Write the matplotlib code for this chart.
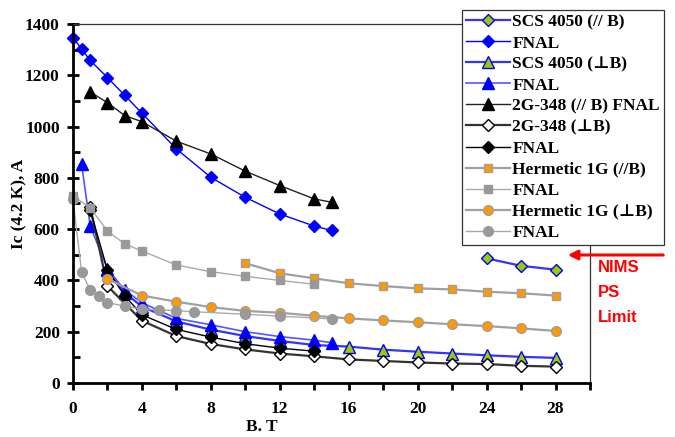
import matplotlib
matplotlib.use("Agg")
import matplotlib.pyplot as plt
from matplotlib.ticker import MultipleLocator

# ---------------- data ----------------
scs_par_x = [24, 26, 28]
scs_par_y = [486, 457, 442]

fnal_scs_par_x = [0, 0.5, 1, 2, 3, 4, 6, 8, 10, 12, 14, 15]
fnal_scs_par_y = [1347, 1302, 1258, 1191, 1122, 1052, 913, 802, 724, 659, 612, 595]

scs_perp_x = [2, 3, 4, 6, 8, 10, 12, 14, 16, 18, 20, 22, 24, 26, 28]
scs_perp_y = [440, 352, 298, 240, 208, 183, 164, 148, 142, 130, 122, 115, 108, 102, 98]

fnal_scs_perp_x = [0.5, 1, 2, 3, 4, 6, 8, 10, 12, 14, 15]
fnal_scs_perp_y = [853, 612, 445, 363, 313, 252, 227, 200, 181, 167, 157]

g2_par_fnal_x = [1, 2, 3, 4, 6, 8, 10, 12, 14, 15]
g2_par_fnal_y = [1135, 1093, 1043, 1019, 943, 893, 826, 770, 718, 705]

g2_perp_x = [1, 2, 4, 6, 8, 10, 12, 14, 16, 18, 20, 22, 24, 26, 28]
g2_perp_y = [685, 378, 243, 183, 152, 131, 115, 104, 92, 86, 80, 76, 74, 67, 64]

fnal_g2_perp_x = [1, 2, 3, 4, 6, 8, 10, 12, 14]
fnal_g2_perp_y = [675, 440, 340, 266, 209, 179, 153, 136, 124]

herm_par_x = [10, 12, 14, 16, 18, 20, 22, 24, 26, 28]
herm_par_y = [467, 428, 408, 389, 378, 369, 365, 356, 350, 341]

fnal_herm_par_x = [0, 1, 2, 3, 4, 6, 8, 10, 12, 14]
fnal_herm_par_y = [730, 683, 593, 542, 515, 460, 434, 416, 400, 385]

herm_perp_x = [2, 4, 6, 8, 10, 12, 14, 16, 18, 20, 22, 24, 26, 28]
herm_perp_y = [406, 341, 317, 296, 281, 274, 262, 252, 244, 237, 229, 222, 213, 203]

fnal_herm_perp_x = [0, 0.5, 1, 1.5, 2, 3, 4, 5, 6, 7, 10, 12, 15]
fnal_herm_perp_y = [716, 432, 363, 339, 313, 300, 288, 285, 282, 278, 268, 261, 250]

labels = ["SCS 4050 (// B)", "FNAL", "SCS 4050 (\u22a5B)", "FNAL",
          "2G-348 (// B) FNAL", "2G-348 (\u22a5B)", "FNAL",
          "Hermetic 1G (//B)", "FNAL", "Hermetic 1G (\u22a5B)", "FNAL"]

# ---------------- style ----------------
BLUE = "#0000ff"
GREEN = "#99cc00"
ORANGE = "#ff9900"
GRAY = "#a0a0a0"
serif = ["Liberation Serif", "DejaVu Serif"]
plt.rcParams["font.family"] = serif
plt.rcParams["font.weight"] = "bold"

fig = plt.figure(figsize=(6.75, 4.37), dpi=100)
ax = fig.add_axes([73 / 675, 1 - 383 / 437, (590 - 73) / 675, (383 - 24) / 437])

series = [
    (scs_par_x, scs_par_y, dict(color="#3333ff", lw=1.6, marker="D", ms=6, mfc=GREEN, mec=BLUE, mew=1.0)),
    (fnal_scs_par_x, fnal_scs_par_y, dict(color=BLUE, lw=1.0, marker="D", ms=6, mfc=BLUE, mec=BLUE)),
    (scs_perp_x, scs_perp_y, dict(color="#3333ff", lw=1.6, marker="^", ms=8, mfc=GREEN, mec=BLUE, mew=1.0)),
    (fnal_scs_perp_x, fnal_scs_perp_y, dict(color="#5555ff", lw=1.2, marker="^", ms=8, mfc=BLUE, mec=BLUE)),
    (g2_par_fnal_x, g2_par_fnal_y, dict(color="#222222", lw=1.0, marker="^", ms=8, mfc="black", mec="black")),
    (g2_perp_x, g2_perp_y, dict(color="#333333", lw=1.6, marker="D", ms=6, mfc="white", mec="black", mew=1.0)),
    (fnal_g2_perp_x, fnal_g2_perp_y, dict(color="black", lw=1.0, marker="D", ms=6, mfc="black", mec="black")),
    (herm_par_x, herm_par_y, dict(color=GRAY, lw=1.6, marker="s", ms=5.5, mfc=ORANGE, mec=GRAY, mew=1.0)),
    (fnal_herm_par_x, fnal_herm_par_y, dict(color="#aaaaaa", lw=1.0, marker="s", ms=5.5, mfc="#999999", mec="#999999")),
    (herm_perp_x, herm_perp_y, dict(color=GRAY, lw=1.6, marker="o", ms=7, mfc=ORANGE, mec=GRAY, mew=1.0)),
    (fnal_herm_perp_x, fnal_herm_perp_y, dict(color="#aaaaaa", lw=1.0, marker="o", ms=7, mfc="#999999", mec="#999999")),
]

handles = []
for (x, y, kw), lab in zip(series, labels):
    h, = ax.plot(x, y, label=lab, clip_on=False, **kw)
    handles.append(h)

ax.set_xlim(0, 30)
ax.set_ylim(0, 1400)
ax.xaxis.set_major_locator(MultipleLocator(4))
ax.xaxis.set_minor_locator(MultipleLocator(2))
ax.yaxis.set_major_locator(MultipleLocator(200))
ax.yaxis.set_minor_locator(MultipleLocator(100))
ax.set_xticks([0, 4, 8, 12, 16, 20, 24, 28])

for s in ["left", "bottom"]:
    ax.spines[s].set_linewidth(2)
    ax.spines[s].set_color("black")
for s in ["top", "right"]:
    ax.spines[s].set_linewidth(0.9)
    ax.spines[s].set_color("#333333")

ax.tick_params(axis="y", which="major", direction="inout", length=9, width=2, pad=5, labelsize=12.5)
ax.tick_params(axis="y", which="minor", direction="in", length=5, width=2)
ax.tick_params(axis="x", which="major", direction="out", length=5, width=2, pad=8, labelsize=12.5)
ax.tick_params(axis="x", which="minor", direction="out", length=5, width=2)
for lab in ax.get_xticklabels() + ax.get_yticklabels():
    lab.set_fontweight("bold")

ax.set_xlabel("B. T", fontsize=12.5, fontweight="bold")
ax.xaxis.set_label_coords((262 - 73) / 517, -0.1)
ax.set_ylabel("Ic (4.2 K), A", fontsize=12.5, fontweight="bold", labelpad=-2)

leg = fig.legend(handles=handles, labels=labels, loc="upper left",
                 bbox_to_anchor=(462 / 675, 1 - 10 / 437), bbox_transform=fig.transFigure,
                 borderaxespad=0, borderpad=0.25, labelspacing=0.28, handlelength=2.5,
                 handletextpad=0.15, frameon=True, fancybox=False, framealpha=1,
                 edgecolor="#333333", prop=dict(family=serif, weight="bold", size=12.5))
leg.get_frame().set_linewidth(0.9)

# NIMS PS limit arrow and text
ax.annotate("", xy=(565 / 675, 1 - 255 / 437), xycoords="figure fraction",
            xytext=(666 / 675, 1 - 255 / 437), textcoords="figure fraction",
            arrowprops=dict(arrowstyle="-|>", color="red", lw=2.2, mutation_scale=14))
for i, t in enumerate(["NIMS", "PS", "Limit"]):
    fig.text(598 / 675, 1 - (268 + 24.5 * i) / 437, t, color="red", fontsize=12,
             fontweight="bold", family=["Liberation Sans", "DejaVu Sans"], va="center", ha="left")

fig.savefig("out.png", dpi=100)
